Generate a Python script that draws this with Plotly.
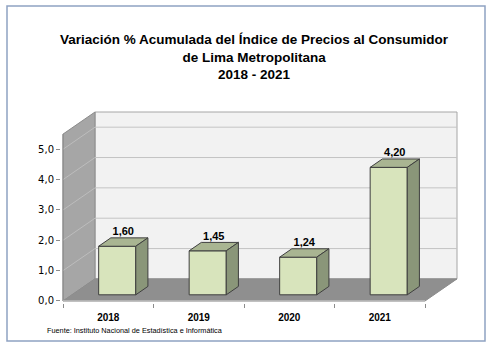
import plotly.graph_objects as go

# ---- data ----
years = ["2018", "2019", "2020", "2021"]
values = [1.60, 1.45, 1.24, 4.20]
y_ticks = [0, 1, 2, 3, 4, 5]
title_lines = ["Variación % Acumulada del Índice de Precios al Consumidor",
               "de Lima Metropolitana", "2018 - 2021"]
source = "Fuente: Instituto Nacional de Estadística e Informática"

# ---- geometry (data units) ----
W, H = 492, 360
PX_X, PX_Y = 90.5, 30.2          # pixels per data unit
DX, DY = 32 / PX_X, 22 / PX_Y    # wall depth offset
YMAX = 5.5
F0, F1 = 0.28, 0.66              # bar depth fractions
BW = 0.41                        # bar width
PAD = 2
n = len(years)
xr = [-PAD / PX_X, n + DX + PAD / PX_X]
yr = [-PAD / PX_Y, YMAX + DY + PAD / PX_Y]
ml = 63 - PAD
mt = 112 - PAD
mr = W - (457 + PAD)
mb = H - (301 + PAD)

fig = go.Figure()

def poly(xs, ys, fill, line="#7f7f7f", width=1):
    fig.add_trace(go.Scatter(x=xs + [xs[0]], y=ys + [ys[0]], mode="lines", fill="toself",
                             fillcolor=fill, line=dict(color=line, width=width),
                             hoverinfo="skip", showlegend=False))

def seg(xs, ys, color, width=1):
    fig.add_trace(go.Scatter(x=xs, y=ys, mode="lines", line=dict(color=color, width=width),
                             hoverinfo="skip", showlegend=False))

# back wall
poly([DX, n + DX, n + DX, DX], [DY, DY, YMAX + DY, YMAX + DY], "#f2f2f2", "#a6a6a6")
# side wall
poly([0, DX, DX, 0], [0, DY, YMAX + DY, YMAX], "#a6a6a6", "#8c8c8c")
# gridlines
for k in y_ticks[1:]:
    seg([DX, n + DX], [k + DY, k + DY], "#c4c4c4")
    seg([0, DX], [k, k + DY], "#bdbdbd")
# floor
poly([0, n, n + DX, DX], [0, 0, DY, DY], "#8f8f8f", "#8c8c8c")
seg([0, 0], [0, YMAX], "#8c8c8c")
seg([0, n], [0, 0], "#bfbfbf", 1.5)

# bars
lx, ly, lt = [], [], []
for i, v in enumerate(values):
    x0 = i + 0.5 - BW / 2 + F0 * DX
    x1 = x0 + BW
    y0 = F0 * DY
    y1 = y0 + v
    ddx, ddy = (F1 - F0) * DX, (F1 - F0) * DY
    poly([x0, x1, x1, x0], [y0, y0, y1, y1], "#d8e4bc", "#3f3f3f")
    poly([x0, x1, x1 + ddx, x0 + ddx], [y1, y1, y1 + ddy, y1 + ddy], "#a9b592", "#3f3f3f")
    poly([x1, x1 + ddx, x1 + ddx, x1], [y0, y0 + ddy, y1 + ddy, y1], "#8a9679", "#3f3f3f")
    lx.append((x0 + x1 + ddx) / 2)
    ly.append(y1 + ddy)
    lt.append("<b>" + f"{v:.2f}".replace(".", ",") + "</b>")

fig.add_trace(go.Scatter(x=lx, y=ly, mode="text", text=lt, textposition="top center",
                         textfont=dict(family="Liberation Sans, Arial", size=11, color="black"),
                         cliponaxis=False, hoverinfo="skip", showlegend=False))

pw, ph = W - ml - mr, H - mt - mb
def px(x): return (x - ml) / pw
def py(y): return 1 - (y - mt) / ph

fig.add_shape(type="rect", xref="paper", yref="paper", x0=px(7), x1=px(485), y0=py(341), y1=py(6),
              line=dict(color="#8fa2c2", width=1.5), fillcolor="rgba(0,0,0,0)", layer="below")

fig.add_annotation(text="<b>" + "<br>".join(title_lines) + "</b>", xref="paper", yref="paper",
                   x=px(254), y=py(30), xanchor="center", yanchor="top", showarrow=False,
                   font=dict(family="Liberation Sans, Arial", size=13.5, color="black"),
                   align="center")
fig.add_annotation(text=source, xref="paper", yref="paper", x=px(45), y=py(330),
                   xanchor="left", yanchor="middle", showarrow=False,
                   font=dict(family="Liberation Sans, Arial", size=7.3, color="#000000"))

fig.update_layout(
    width=W, height=H, margin=dict(l=ml, r=mr, t=mt, b=mb),
    paper_bgcolor="white", plot_bgcolor="rgba(0,0,0,0)", separators=",.",
    xaxis=dict(range=xr, showgrid=False, zeroline=False, showline=False,
               tickmode="array", tickvals=[i + 0.5 for i in range(n)], ticktext=[f"<b>{y}</b>" for y in years],
               ticks="", ticklabelstandoff=7,
               tickfont=dict(family="Liberation Sans, Arial", size=10, color="black"),
               minor=dict(tickmode="array", tickvals=list(range(n + 1)), ticks="outside", ticklen=4,
                          tickcolor="#8c8c8c", showgrid=False),
               fixedrange=True),
    yaxis=dict(range=yr, showgrid=False, zeroline=False, showline=False,
               tickmode="array", tickvals=y_ticks, tickformat=".1f", ticks="outside", ticklen=4,
               tickcolor="#8c8c8c", tickfont=dict(family="DejaVu Sans", size=10, color="black"),
               fixedrange=True),
)

fig.write_html("out.html", config={"displayModeBar": False},
               post_script="document.body.style.margin='0px';")
